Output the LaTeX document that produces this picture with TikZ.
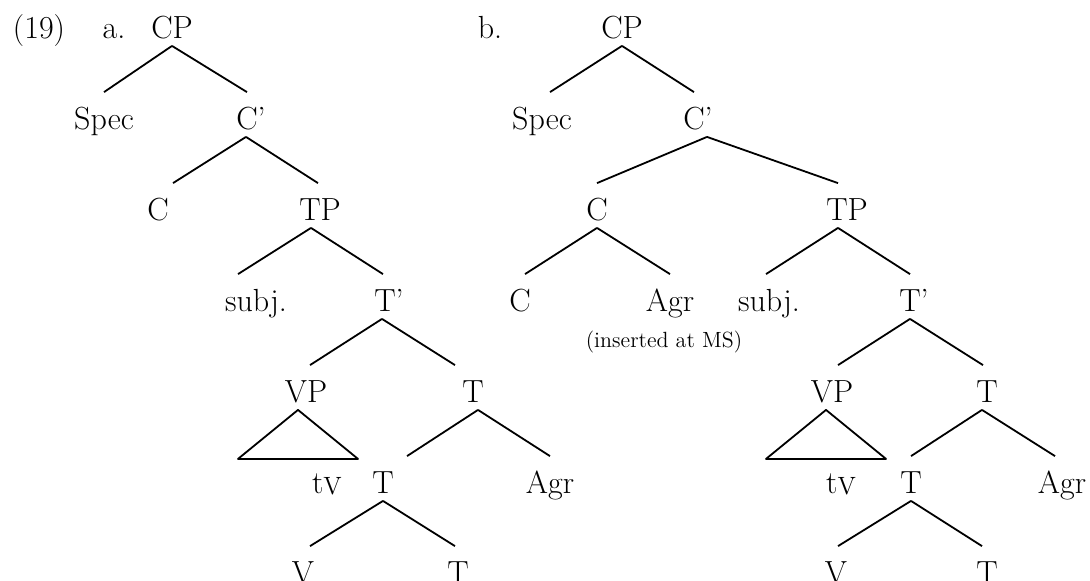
\documentclass[tikz,border=0pt]{standalone}
\usepackage{amsmath}

\begin{document}
\begin{tikzpicture}[x=0.5pt,y=-0.5pt,line width=0.9pt,line join=round,
    lbl/.style={anchor=base,inner xsep=0pt,inner ysep=3.5pt,text height=14.5pt,text depth=0pt,font=\fontsize{16}{19}\selectfont},
    note/.style={anchor=base,inner sep=0pt,font=\fontsize{11}{13}\selectfont}]
                \useasboundingbox (0,0) rectangle (1090,580);
                % (a)
                \node[lbl] (n19) at (39,38) {(19)};
                \node[lbl] (la) at (114,38) {a.};
                \node[lbl] (aCP) at (172,38) {CP};
                \node[lbl] (aSpec) at (104,129) {Spec};
                \node[lbl] (aCb) at (247,129) {C\rlap{'}};
                \node[lbl] (aC) at (158,220) {C};
                \node[lbl] (aTP) at (320,220) {TP};
                \node[lbl] (aSubj) at (256,311) {subj.};
                \node[lbl] (aTb) at (385,311) {T\rlap{'}};
                \node[lbl] (aVP) at (306,402) {VP};
                \node[lbl] (aT4) at (473,402) {T};
                \node[lbl] (atV) at (327,493) {t\raisebox{-0.5pt}{\fontsize{12.5}{13}\selectfont V}};
                \node[lbl] (aT5) at (383,493) {T};
                \node[lbl] (aAgr) at (550,493) {Agr};
                \node[lbl] (aV) at (303,583) {V};
                \node[lbl] (aT6) at (458,583) {T};
                \draw (aCP.south) -- (aSpec.north);
                \draw (aCP.south) -- (aCb.north);
                \draw ([xshift=-0.5pt]aCb.south) -- ([xshift=7.5pt]aC.north);
                \draw ([xshift=-0.5pt]aCb.south) -- ([xshift=-1pt]aTP.north);
                \draw ([xshift=-4.5pt]aTP.south) -- ([xshift=-9pt]aSubj.north);
                \draw ([xshift=-4.5pt]aTP.south) -- ([xshift=-1pt]aTb.north);
                \draw ([xshift=-1.5pt]aTb.south) -- ([xshift=2pt]aVP.north);
                \draw ([xshift=-1.5pt]aTb.south) -- ([xshift=-9pt]aT4.north);
                \draw ([xshift=2.5pt]aT4.south) -- ([xshift=12pt]aT5.north);
                \draw ([xshift=2.5pt]aT4.south) -- (aAgr.north);
                \draw (aT5.south) -- ([xshift=3.5pt]aV.north);
                \draw (aT5.south) -- ([xshift=-1.5pt]aT6.north);
                \draw ([xshift=-4pt]aVP.south) -- ++(-60,49) -- ++(120,0) -- cycle;
                % (b)
                \node[lbl] (lb) at (490,38) {b.};
                \node[lbl] (bCP) at (622,38) {CP};
                \node[lbl] (bSpec) at (542,129) {Spec};
                \node[lbl] (bCb) at (694,129) {C\rlap{'}};
                \node[lbl] (bC) at (597,220) {C};
                \node[lbl] (bTP) at (847,220) {TP};
                \node[lbl] (bC3) at (520,311) {C};
                \node[lbl] (bAgr3) at (670,311) {Agr};
                \node[note] (ins) at (664,347) {(inserted at MS)};
                \node[lbl] (bSubj) at (769,311) {subj.};
                \node[lbl] (bTb) at (910,311) {T\rlap{'}};
                \node[lbl] (bVP) at (832,402) {VP};
                \node[lbl] (bT4) at (987,402) {T};
                \node[lbl] (btV) at (841,493) {t\raisebox{-0.5pt}{\fontsize{12.5}{13}\selectfont V}};
                \node[lbl] (bT5) at (911,493) {T};
                \node[lbl] (bAgr5) at (1062,493) {Agr};
                \node[lbl] (bV) at (836,583) {V};
                \node[lbl] (bT6) at (987,583) {T};
                \draw (bCP.south) -- ([xshift=4pt]bSpec.north);
                \draw (bCP.south) -- (bCb.north);
                \draw ([xshift=6.5pt]bCb.south) -- (bC.north);
                \draw ([xshift=6.5pt]bCb.south) -- ([xshift=-4.5pt]bTP.north);
                \draw (bC.south) -- ([xshift=2.5pt]bC3.north);
                \draw (bC.south) -- (bAgr3.north);
                \draw ([xshift=-4.5pt]bTP.south) -- ([xshift=-1.5pt]bSubj.north);
                \draw ([xshift=-4.5pt]bTP.south) -- (bTb.north);
                \draw (bTb.south) -- ([xshift=3pt]bVP.north);
                \draw (bTb.south) -- ([xshift=-2pt]bT4.north);
                \draw ([xshift=-2.5pt]bT4.south) -- (bT5.north);
                \draw ([xshift=-2.5pt]bT4.south) -- ([xshift=-3.5pt]bAgr5.north);
                \draw (bT5.south) -- ([xshift=1pt]bV.north);
                \draw (bT5.south) -- ([xshift=-2.5pt]bT6.north);
                \draw ([xshift=-3pt]bVP.south) -- ++(-60,49) -- ++(120,0) -- cycle;
            \end{tikzpicture}
\end{document}
